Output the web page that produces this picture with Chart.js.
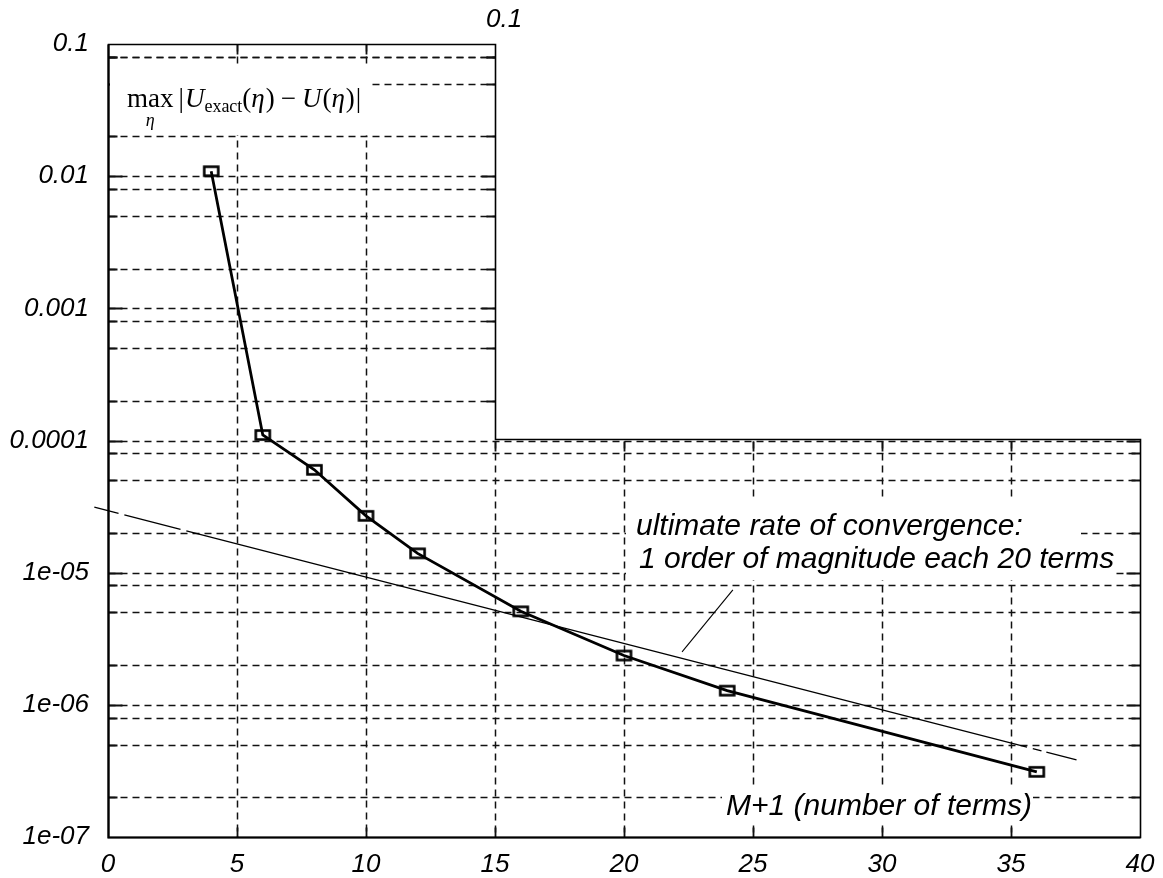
<!DOCTYPE html>
<html><head><meta charset="utf-8">
<script src="https://cdn.jsdelivr.net/npm/chart.js@4.4.1/dist/chart.umd.min.js"></script>
<style>html,body{margin:0;padding:0;background:#fff}canvas{display:block}</style>
</head><body>
<canvas id="c" width="1163" height="878"></canvas>
<script>
// ---- data ----
const nTerms   = [4, 6, 8, 10, 12, 16, 20, 24, 36];
const maxError = [1.09e-2, 1.1e-4, 6.0e-5, 2.69e-5, 1.40e-5, 5.1e-6, 2.36e-6, 1.28e-6, 3.11e-7];
const rateX = [-0.53, 37.54];          // ultimate rate line: 1 decade per 20 terms
const rateY = [3.13e-5, 3.84e-7];
const pointerX = [22.25, 24.22];       // leader from label to rate line
const pointerY = [2.52e-6, 7.41e-6];
const xTickValues = [0, 5, 10, 15, 20, 25, 30, 35, 40];
const yTickValues = [1e-7, 1e-6, 1e-5, 1e-4, 1e-3, 1e-2, 1e-1];
const yTickLabels = ['1e-07', '1e-06', '1e-05', '0.0001', '0.001', '0.01', '0.1'];
const gridMantissas = [1, 2, 5, 8];
const xGridValues = [5, 10, 15, 20, 25, 30, 35];
const cornerX = 15, cornerY = 1e-4;    // upper-right part of the frame is empty
const topLabel = '0.1';
const rateText1 = 'ultimate rate of convergence:';
const rateText2 = '1 order of magnitude each 20 terms';
const xTitle = 'M+1 (number of terms)';

const SANS = '"Liberation Sans", Arial, Helvetica, sans-serif';
const SERIF = '"Liberation Serif", "Times New Roman", serif';

// marker: hollow rectangle
const mk = document.createElement('canvas');
mk.width = 19; mk.height = 14;
{ const g = mk.getContext('2d'); g.strokeStyle = '#000'; g.lineWidth = 2.6; g.strokeRect(2.5, 2.5, 14, 9); }

function drawFormula(ctx, x0, base) {
  ctx.fillStyle = '#000';
  ctx.textBaseline = 'alphabetic';
  ctx.textAlign = 'left';
  const big = 27, sub = 18;
  let x = x0;
  ctx.font = `${big}px ${SERIF}`;
  const wMax = ctx.measureText('max').width;
  ctx.fillText('max', x, base);
  ctx.font = `italic ${sub}px ${SERIF}`;
  const wEta = ctx.measureText('η').width;
  ctx.fillText('η', x + (wMax - wEta) / 2, base + 19);
  x += wMax + 5;
  const seq = [
    ['|', `${big}px ${SERIF}`, 0, 1],
    ['U', `italic ${big}px ${SERIF}`, 0, 0],
    ['exact', `${sub}px ${SERIF}`, 5, 0],
    ['(', `${big}px ${SERIF}`, 0, 0],
    ['η', `italic ${big}px ${SERIF}`, 0, 1],
    [')', `${big}px ${SERIF}`, 0, 6],
    ['−', `${big}px ${SERIF}`, 0, 6],
    ['U', `italic ${big}px ${SERIF}`, 0, 1],
    ['(', `${big}px ${SERIF}`, 0, 0],
    ['η', `italic ${big}px ${SERIF}`, 0, 1],
    [')', `${big}px ${SERIF}`, 0, 1],
    ['|', `${big}px ${SERIF}`, 0, 0]
  ];
  for (const [t, f, dy, gap] of seq) {
    ctx.font = f;
    ctx.fillText(t, x, base + dy);
    x += ctx.measureText(t).width + gap;
  }
}

const framePlugin = {
  id: 'frame',
  beforeDatasetsDraw(chart) {
    const ctx = chart.ctx, X = chart.scales.x, Y = chart.scales.y;
    const r = v => Math.round(v) + 0.5;
    const L = r(X.getPixelForValue(0)), R = r(X.getPixelForValue(40));
    const T = r(Y.getPixelForValue(0.1)), B = r(Y.getPixelForValue(1e-7));
    const cx = r(X.getPixelForValue(cornerX)), cy = r(Y.getPixelForValue(cornerY));
    ctx.save();
    ctx.strokeStyle = '#111';
    ctx.lineWidth = 1.5;
    // horizontal grid
    const hv = [];
    for (let e = -7; e <= -2; e++) for (const m of gridMantissas) {
      const v = m * Math.pow(10, e);
      if (v > 1e-7 * 1.001 && v < 0.1 * 0.999) hv.push(v);
    }
    hv.push(0.08);
    ctx.setLineDash([7, 5]);
    for (const v of hv) {
      const y = r(Y.getPixelForValue(v));
      const xe = v > cornerY * 1.001 ? cx : R;
      ctx.beginPath(); ctx.moveTo(L, y); ctx.lineTo(xe, y); ctx.stroke();
    }
    for (const xv of xGridValues) {
      const x = r(X.getPixelForValue(xv));
      const ys = xv < cornerX ? T : cy;
      ctx.beginPath(); ctx.moveTo(x, ys); ctx.lineTo(x, B); ctx.stroke();
    }
    ctx.setLineDash([]);
    ctx.lineWidth = 1.8;
    // tick stubs
    for (const v of hv) {
      const y = r(Y.getPixelForValue(v));
      const major = Math.abs(Math.log10(v) - Math.round(Math.log10(v))) < 1e-6;
      const len = major ? 14 : 9;
      const xe = v > cornerY * 1.001 ? cx : R;
      ctx.beginPath(); ctx.moveTo(L, y); ctx.lineTo(L + len, y);
      ctx.moveTo(xe - len, y); ctx.lineTo(xe, y); ctx.stroke();
    }
    for (const xv of xGridValues) {
      const x = r(X.getPixelForValue(xv));
      const ys = xv < cornerX ? T : cy;
      ctx.beginPath(); ctx.moveTo(x, B); ctx.lineTo(x, B - 10);
      ctx.moveTo(x, ys); ctx.lineTo(x, ys + 10); ctx.stroke();
    }
    // frame
    ctx.lineWidth = 1.6;
    ctx.strokeStyle = '#000';
    ctx.beginPath();
    ctx.moveTo(L, T); ctx.lineTo(cx, T); ctx.lineTo(cx, cy - 2); ctx.lineTo(R, cy - 2);
    ctx.lineTo(R, B); ctx.lineTo(L, B); ctx.closePath(); ctx.stroke();
    ctx.lineWidth = 2.2;
    ctx.beginPath(); ctx.moveTo(L, T); ctx.lineTo(L, B); ctx.lineTo(R, B); ctx.stroke();

    // text boxes (white background)
    ctx.fillStyle = '#fff';
    ctx.fillRect(110, 68, 262, 67);
    ctx.fillRect(626, 500, 455, 43);
    ctx.fillRect(626, 543, 490, 37);
    ctx.fillRect(722, 785, 311, 37);

    drawFormula(ctx, 127, 107);

    ctx.fillStyle = '#000';
    ctx.textAlign = 'left';
    ctx.textBaseline = 'alphabetic';
    ctx.font = `italic 30px ${SANS}`;
    ctx.fillText(rateText1, 636, 535);
    ctx.fillText(rateText2, 639, 568);
    ctx.fillText(xTitle, 726, 815);
    ctx.font = `italic 26px ${SANS}`;
    ctx.fillText(topLabel, 486, 27);
    ctx.restore();
  }
};

const pts = (xs, ys) => xs.map((x, i) => ({ x, y: ys[i] }));

new Chart(document.getElementById('c'), {
  type: 'line',
  data: {
    datasets: [
      {
        data: pts(rateX, rateY),
        borderColor: '#000', borderWidth: 1.3, pointRadius: 0,
        borderDash: [25, 6, 58, 6, 868, 6, 9, 5, 60, 0],
        clip: false, tension: 0
      },
      {
        data: pts(pointerX, pointerY),
        borderColor: '#000', borderWidth: 1.1, pointRadius: 0, tension: 0
      },
      {
        data: pts(nTerms, maxError),
        borderColor: '#000', borderWidth: 2.8,
        pointStyle: mk, pointRadius: 7,
        tension: 0
      }
    ]
  },
  options: {
    responsive: false,
    animation: false,
    devicePixelRatio: 1,
    events: [],
    layout: { padding: { left: 0, top: 44, right: 23, bottom: 0 } },
    plugins: { legend: { display: false }, tooltip: { enabled: false } },
    scales: {
      x: {
        type: 'linear', min: 0, max: 40,
        afterFit: s => { s.height = 41; s.paddingLeft = 0; s.paddingRight = 0; },
        afterBuildTicks: s => { s.ticks = xTickValues.map(v => ({ value: v })); },
        grid: { display: false, drawTicks: false },
        border: { display: false },
        ticks: {
          autoSkip: false, maxRotation: 0, padding: 12, color: '#000',
          font: { family: SANS, size: 26, style: 'italic' },
          callback: v => String(v)
        }
      },
      y: {
        type: 'logarithmic', min: 1e-7, max: 0.1,
        afterFit: s => { s.width = 108; s.paddingTop = 0; s.paddingBottom = 0; },
        afterBuildTicks: s => { s.ticks = yTickValues.map(v => ({ value: v })); },
        grid: { display: false, drawTicks: false },
        border: { display: false },
        ticks: {
          autoSkip: false, padding: 19, color: '#000',
          font: { family: SANS, size: 26, style: 'italic' },
          callback: (v, i) => yTickLabels[i]
        }
      }
    }
  },
  plugins: [framePlugin]
});
</script>
</body></html>
